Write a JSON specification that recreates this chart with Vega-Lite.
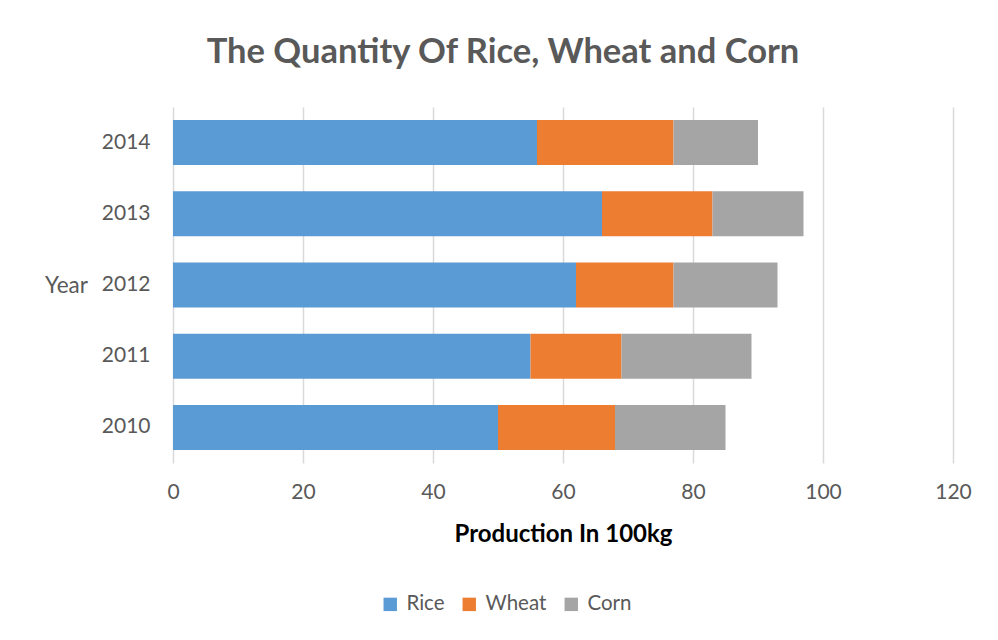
{
  "$schema": "https://vega.github.io/schema/vega-lite/v6.json",
  "width": 780,
  "height": 356,
  "autosize": {"type": "none"},
  "padding": {"left": 173, "top": 107, "right": 45, "bottom": 177},
  "background": "#ffffff",
  "title": {
    "text": "The Quantity Of Rice, Wheat and Corn",
    "font": "Lato",
    "fontSize": 34.5,
    "fontWeight": "bold",
    "color": "#595959",
    "anchor": "middle",
    "dx": -60,
    "offset": 37
  },
  "data": {
    "values": [
      {"year": "2010", "crop": "Rice", "rank": 1, "amount": 50},
      {"year": "2010", "crop": "Wheat", "rank": 2, "amount": 18},
      {"year": "2010", "crop": "Corn", "rank": 3, "amount": 17},
      {"year": "2011", "crop": "Rice", "rank": 1, "amount": 55},
      {"year": "2011", "crop": "Wheat", "rank": 2, "amount": 14},
      {"year": "2011", "crop": "Corn", "rank": 3, "amount": 20},
      {"year": "2012", "crop": "Rice", "rank": 1, "amount": 62},
      {"year": "2012", "crop": "Wheat", "rank": 2, "amount": 15},
      {"year": "2012", "crop": "Corn", "rank": 3, "amount": 16},
      {"year": "2013", "crop": "Rice", "rank": 1, "amount": 66},
      {"year": "2013", "crop": "Wheat", "rank": 2, "amount": 17},
      {"year": "2013", "crop": "Corn", "rank": 3, "amount": 14},
      {"year": "2014", "crop": "Rice", "rank": 1, "amount": 56},
      {"year": "2014", "crop": "Wheat", "rank": 2, "amount": 21},
      {"year": "2014", "crop": "Corn", "rank": 3, "amount": 13}
    ]
  },
  "mark": {"type": "bar"},
  "encoding": {
    "y": {
      "field": "year",
      "type": "ordinal",
      "sort": "descending",
      "scale": {"paddingInner": 0.368, "paddingOuter": 0.184},
      "axis": {
        "title": "Year",
        "titleAngle": 0,
        "titleAlign": "center",
        "titleBaseline": "middle",
        "titleX": -107,
        "titleY": 178,
        "titleFont": "Lato",
        "titleFontSize": 22.5,
        "titleFontWeight": "normal",
        "titleColor": "#595959",
        "labelFont": "Lato",
        "labelFontSize": 21,
        "labelColor": "#595959",
        "labelPadding": 23,
        "ticks": false,
        "domain": false,
        "grid": false
      }
    },
    "x": {
      "field": "amount",
      "type": "quantitative",
      "stack": "zero",
      "scale": {"domain": [0, 120], "nice": false},
      "axis": {
        "values": [0, 20, 40, 60, 80, 100, 120],
        "title": "Production In 100kg",
        "titleFont": "Lato",
        "titleFontSize": 24,
        "titleFontWeight": "bold",
        "titleColor": "#000000",
        "titlePadding": 20,
        "labelFont": "Lato",
        "labelFontSize": 21,
        "labelColor": "#595959",
        "labelPadding": 18,
        "labelFlush": false,
        "ticks": false,
        "domain": false,
        "grid": true,
        "gridColor": "#d9d9d9",
        "gridWidth": 1.5
      }
    },
    "color": {
      "field": "crop",
      "type": "nominal",
      "sort": ["Rice", "Wheat", "Corn"],
      "scale": {"domain": ["Rice", "Wheat", "Corn"], "range": ["#5b9bd5", "#ed7d31", "#a5a5a5"]},
      "legend": {
        "title": null,
        "orient": "none",
        "direction": "horizontal",
        "legendX": 207,
        "legendY": 487,
        "symbolType": "square",
        "symbolSize": 180,
        "symbolStrokeWidth": 0,
        "labelFont": "Lato",
        "labelFontSize": 20.5,
        "labelColor": "#595959",
        "labelOffset": 6,
        "columnPadding": 14
      }
    },
    "order": {"field": "rank", "type": "quantitative", "sort": "ascending"}
  },
  "config": {"view": {"stroke": null}}
}
